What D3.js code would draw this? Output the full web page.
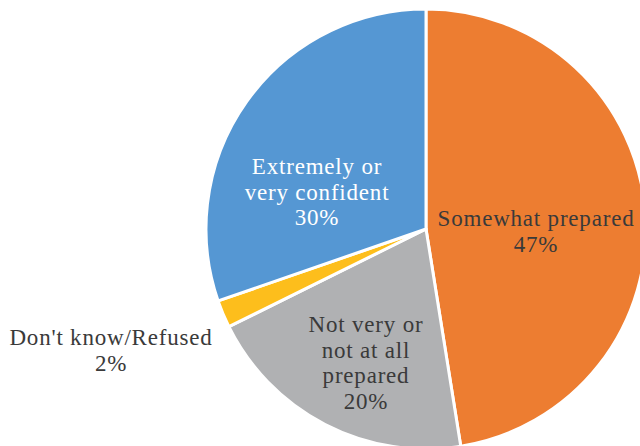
<!DOCTYPE html>
<html><head><meta charset="utf-8">
<script src="https://cdn.jsdelivr.net/npm/d3@7"></script>
<style>html,body{margin:0;padding:0;background:#fff;overflow:hidden}</style>
</head><body>
<svg id="chart" width="640" height="446"></svg>
<script>
const categories = ["Somewhat prepared", "Not very or not at all prepared", "Don't know/Refused", "Extremely or very confident"];
const values = [47, 20, 2, 30];
const labelLines = [["Somewhat prepared", "47%"], ["Not very or", "not at all", "prepared", "20%"], ["Don't know/Refused", "2%"], ["Extremely or", "very confident", "30%"]];
const colors = ["#ED7D31", "#B0B1B3", "#FDBE1C", "#5597D3"];

const svg = d3.select("#chart");
const cx = 426, cy = 229, r = 220;
const g = svg.append("g").attr("transform", `translate(${cx},${cy})`);
const pie = d3.pie().sort(null).value(d => d)(values);
const arc = d3.arc().innerRadius(0).outerRadius(r);
g.selectAll("path").data(pie).join("path")
  .attr("d", arc)
  .attr("fill", (d, i) => colors[i])
  .attr("stroke", "#fff").attr("stroke-width", 3).attr("stroke-linejoin", "round");

// label anchor positions (center x, first baseline) relative to pie center
const labelPos = [[110, -3], [-60, 103], [-315, 116], [-109, -55]];
const textColors = ["#3a3a3a", "#3a3a3a", "#3a3a3a", "#fff"];
const lineH = 25.5;
labelLines.forEach((lines, i) => {
  const t = g.append("text")
    .attr("text-anchor", "middle")
    .attr("font-family", "'Liberation Serif', serif")
    .attr("font-size", 23)
    .attr("letter-spacing", 0.8)
    .attr("fill", textColors[i]);
  lines.forEach((ln, j) => {
    t.append("tspan").attr("x", labelPos[i][0]).attr("y", labelPos[i][1] + j * lineH).text(ln);
  });
});
</script>
</body></html>
